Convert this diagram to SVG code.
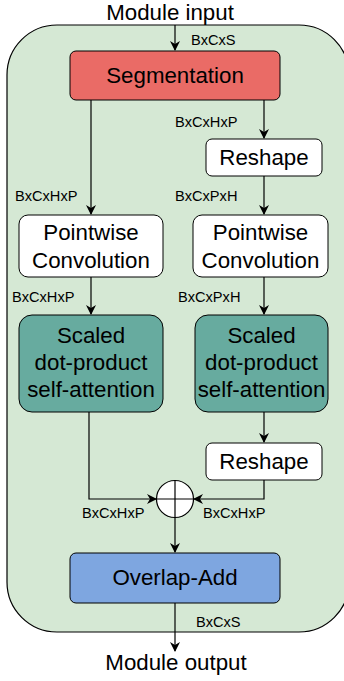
<svg xmlns="http://www.w3.org/2000/svg" width="344" height="681" viewBox="0 0 344 681">
<defs>
<marker id="arr" viewBox="0 0 10 10" refX="9" refY="5" markerWidth="10" markerHeight="10" markerUnits="userSpaceOnUse" orient="auto">
<path d="M0,0 L10,5 L0,10 L3,5 Z" fill="#000"/>
</marker>
</defs>
<style>
text{font-family:"Liberation Sans",Arial,sans-serif;fill:#000}
.big{font-size:22.3px;text-anchor:middle}
.small{font-size:14.6px}
.box{stroke:#000;stroke-width:1}
.ln{fill:none;stroke:#000;stroke-width:1.2}
</style>
<rect x="7" y="25" width="342" height="607" rx="50" fill="#d5e8d4" stroke="#000" stroke-width="1.2"/>
<text class="big" x="170" y="20">Module input</text>
<text class="big" x="176" y="670">Module output</text>
<g id="connectors">
<path class="ln" d="M175,25 V50" marker-end="url(#arr)"/>
<path class="ln" d="M91,100 V214" marker-end="url(#arr)"/>
<path class="ln" d="M264,100 V138" marker-end="url(#arr)"/>
<path class="ln" d="M264,176 V214" marker-end="url(#arr)"/>
<path class="ln" d="M91,277 V314" marker-end="url(#arr)"/>
<path class="ln" d="M264,277 V314" marker-end="url(#arr)"/>
<path class="ln" d="M264,412 V442" marker-end="url(#arr)"/>
<path class="ln" d="M89,412 V499 H156" marker-end="url(#arr)"/>
<path class="ln" d="M264,480 V499 H194" marker-end="url(#arr)"/>
<path class="ln" d="M175,517.5 V552" marker-end="url(#arr)"/>
<path class="ln" d="M175,603 V651" marker-end="url(#arr)"/>
<text class="small" x="191" y="45">BxCxS</text>
<text class="small" x="175" y="127">BxCxHxP</text>
<text class="small" x="15" y="201">BxCxHxP</text>
<text class="small" x="175" y="201">BxCxPxH</text>
<text class="small" x="12" y="302">BxCxHxP</text>
<text class="small" x="178" y="302">BxCxPxH</text>
<text class="small" x="82" y="518">BxCxHxP</text>
<text class="small" x="203" y="518">BxCxHxP</text>
<text class="small" x="196" y="627">BxCxS</text>
</g>
<g id="segmentation">
<rect class="box" x="70" y="51" width="210" height="49" rx="6" fill="#ea6b66"/>
<text class="big" x="175" y="83">Segmentation</text>
</g>
<g id="reshape1">
<rect class="box" x="206" y="139" width="116" height="37" rx="6" fill="#fff"/>
<text class="big" x="264" y="165">Reshape</text>
</g>
<g id="pointwise-left">
<rect class="box" x="19" y="215" width="144" height="62" rx="9" fill="#fff"/>
<text class="big" x="91" y="240">Pointwise</text>
<text class="big" x="91" y="268">Convolution</text>
</g>
<g id="pointwise-right">
<rect class="box" x="193" y="215" width="135" height="62" rx="9" fill="#fff"/>
<text class="big" x="260.5" y="240">Pointwise</text>
<text class="big" x="260.5" y="268">Convolution</text>
</g>
<g id="attention-left">
<rect class="box" x="19" y="315" width="144" height="97" rx="13" fill="#67ab9f"/>
<text class="big" x="91" y="343">Scaled</text>
<text class="big" x="91" y="370">dot-product</text>
<text class="big" x="91" y="397">self-attention</text>
</g>
<g id="attention-right">
<rect class="box" x="195" y="315" width="133" height="97" rx="13" fill="#67ab9f"/>
<text class="big" x="261.5" y="343">Scaled</text>
<text class="big" x="261.5" y="370">dot-product</text>
<text class="big" x="261.5" y="397">self-attention</text>
</g>
<g id="reshape2">
<rect class="box" x="206" y="443" width="116" height="37" rx="6" fill="#fff"/>
<text class="big" x="264" y="469">Reshape</text>
</g>
<g id="sum">
<circle cx="175" cy="499" r="18.5" fill="#fff" stroke="#000" stroke-width="1.2"/>
<path d="M156.5,499 H193.5 M175,480.5 V517.5" stroke="#000" stroke-width="1.2"/>
</g>
<g id="overlap-add">
<rect class="box" x="70" y="553" width="210" height="50" rx="6" fill="#7ea6e0"/>
<text class="big" x="175" y="585">Overlap-Add</text>
</g>
</svg>
